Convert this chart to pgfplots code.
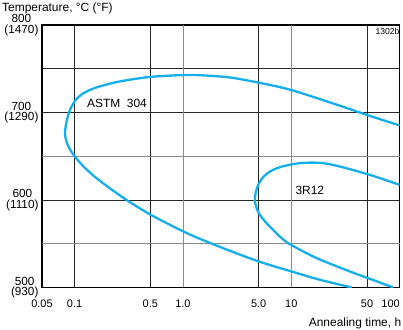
\documentclass[border=0pt]{standalone}
\usepackage{fontspec}
\setmainfont{Liberation Sans}
\usepackage{pgfplots}
\pgfplotsset{compat=1.18}
\definecolor{curve}{RGB}{20,175,235}
\begin{document}
\begin{tikzpicture}[x=1bp,y=1bp]
\path (-42,-42.3) rectangle (361,287.7);
\begin{axis}[
  at={(0,0)}, anchor=south west,
  scale only axis, width=358bp, height=262.7bp,
  xmode=log, xmin=0.05, xmax=100, ymin=500, ymax=800,
  xtick={0.05,0.1,0.5,5,50,100},
  xticklabels={0.05,0.1,0.5,5.0,50,\makebox[0pt][r]{100}},
  extra x ticks={1,10}, extra x tick labels={1.0,10},
  extra x tick style={grid=major, major grid style={black!45, line width=0.9bp}},
  ytick={500,600,700,750,800},
  yticklabels={{500\\(930)},{600\\(1110)},{700\\(1290)},{},{800\\(1470)}},
  extra y ticks={550,650}, extra y tick labels={},
  extra y tick style={grid=major, major grid style={black!45, line width=0.9bp}},
  grid=major, major grid style={black!85, line width=0.8bp},
  major tick length=0pt,
  axis line style={line width=1.4bp},
  xticklabel style={font=\fontsize{11}{12}\selectfont, yshift=-8.5bp},
  yticklabel style={font=\fontsize{11.8}{10.5}\selectfont, align=center},
  clip=true,
]
\addplot[curve, line width=2.3bp, smooth, tension=0.5] coordinates {
 (36.2,500.0) (18.35,508.8) (9.91,518.5) (5.13,529.3) (2.713,541.9) (1.434,555.6)
 (0.938,565.9) (0.4958,583.6) (0.3107,599.0) (0.2120,613.3) (0.1541,626.4)
 (0.1220,637.8) (0.1029,648.1) (0.0906,657.8) (0.0841,667.0) (0.0815,675.5)
 (0.0829,684.7) (0.0859,693.8) (0.0916,704.1) (0.1008,713.2) (0.1145,720.1)
 (0.1386,725.8) (0.1714,729.8) (0.2622,735.5) (0.4958,740.6) (0.978,742.7)
 (1.434,742.6) (2.713,740.0) (5.13,733.8) (9.91,725.8) (24.18,710.4)
 (53.06,696.1) (100,685.2)
};
\addplot[curve, line width=2.3bp, smooth, tension=0.5] coordinates {
 (87.1,500.0) (53.06,509.9) (34.7,518.3) (17.11,533.6) (9.91,548.8) (8.13,556.4)
 (7.05,563.9) (5.91,573.5) (5.13,583.0) (4.78,590.7) (4.61,599.0) (4.68,607.8)
 (4.95,617.3) (5.50,626.1) (6.34,632.5) (7.85,637.5) (9.91,640.5) (12.0,642.1)
 (14.84,642.7) (19.7,642.1) (28.1,638.2) (53.06,628.7) (100,617.3)
};
\node[anchor=base west, inner sep=0, font=\fontsize{12}{13}\selectfont] at (axis cs:0.13,705.6) {ASTM\ \ 304};
\node[anchor=base west, inner sep=0, font=\fontsize{12}{13}\selectfont] at (axis cs:10.9,605.9) {3R12};
\end{axis}
\node[anchor=base east, inner sep=0, font=\fontsize{8.6}{9}\selectfont] at (358,252.7) {1302b};
\node[anchor=base west, inner sep=0, font=\fontsize{12}{13}\selectfont] at (-40,276) {Temperature, °C (°F)};
\node[anchor=base east, inner sep=0, font=\fontsize{12}{13}\selectfont] at (359.7,-39.3) {Annealing time, h};
\end{tikzpicture}
\end{document}
